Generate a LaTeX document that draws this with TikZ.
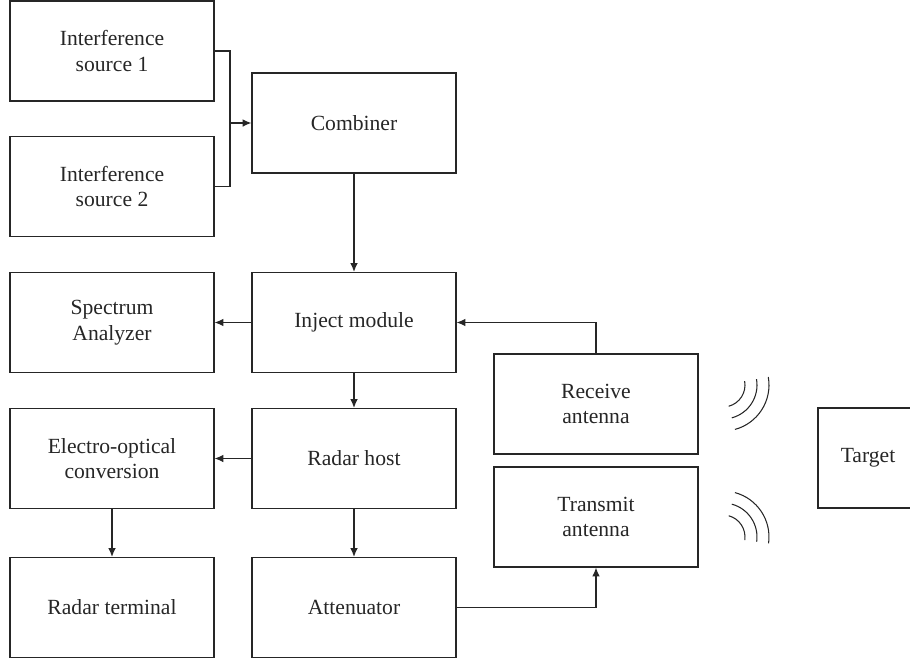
\documentclass[tikz,border=0pt]{standalone}
\usepackage{fontspec}
\setmainfont{Liberation Serif}
\usepackage{tikz}
\usetikzlibrary{arrows.meta}

\begin{document}
\begin{tikzpicture}[ >={Latex[length=5pt,width=4.4pt]},
      font=\fontsize{12.3}{14.5}\selectfont, line width=0.7pt,
      color=black!85, box/.style={draw, align=center, minimum width=4.08cm,
      minimum height=2cm}, arrow/.style={->}, wave/.style={line width=0.6pt} ]

    \clip (0,0) rectangle (18.2,-13.24);

    % Left column
    \node[box] (src1) at (2.24,-1.02) {Interference\\source 1};
    \node[box] (src2) at (2.24,-3.73) {Interference\\source 2};
    \node[box] (spec) at (2.24,-6.45) {Spectrum\\Analyzer};
    \node[box] (eoc) at (2.24,-9.17) {Electro-optical\\conversion};
    \node[box] (term) at (2.24,-12.15) {Radar terminal};

    % Middle column
    \node[box] (comb) at (7.08,-2.46) {Combiner};
    \node[box] (inj) at (7.08,-6.45) {Inject module};
    \node[box] (host) at (7.08,-9.17) {Radar host};
    \node[box] (att) at (7.08,-12.15) {Attenuator};

    % Antennas and target
    \node[box] (rx) at (11.92,-8.08) {Receive\\antenna};
    \node[box] (tx) at (11.92,-10.34) {Transmit\\antenna};
    \node[box, minimum width=2cm] (tgt) at (17.36,-9.16) {Target};

    % Connections
    \coordinate (join) at (4.6,-2.46);
    \draw (src1.east) -| (join); \draw (src2.east) -| (join);
    \draw[arrow] (join) -- (comb.west);
    \draw[arrow] (comb) -- (inj); \draw[arrow] (inj) -- (spec);
    \draw[arrow] (inj) -- (host); \draw[arrow] (host) -- (eoc);
    \draw[arrow] (eoc) -- (term); \draw[arrow] (host) -- (att);
    \draw[arrow] (rx.north) |- (inj.east);
    \draw[arrow] (att.east) -| (tx.south);

    % Radio waves
    \coordinate (rxw) at (14.46,-7.70); \coordinate (txw) at (14.46,-10.74);
    \foreach \r in {0.44,0.68,0.92} {
      \draw[wave] ([shift={(10:\r)}]rxw) arc[start angle=10, end angle=-75,
      radius=\r];
      \draw[wave] ([shift={(75:\r)}]txw) arc[start angle=75, end angle=-8,
      radius=\r]; }

  \end{tikzpicture}
\end{document}
